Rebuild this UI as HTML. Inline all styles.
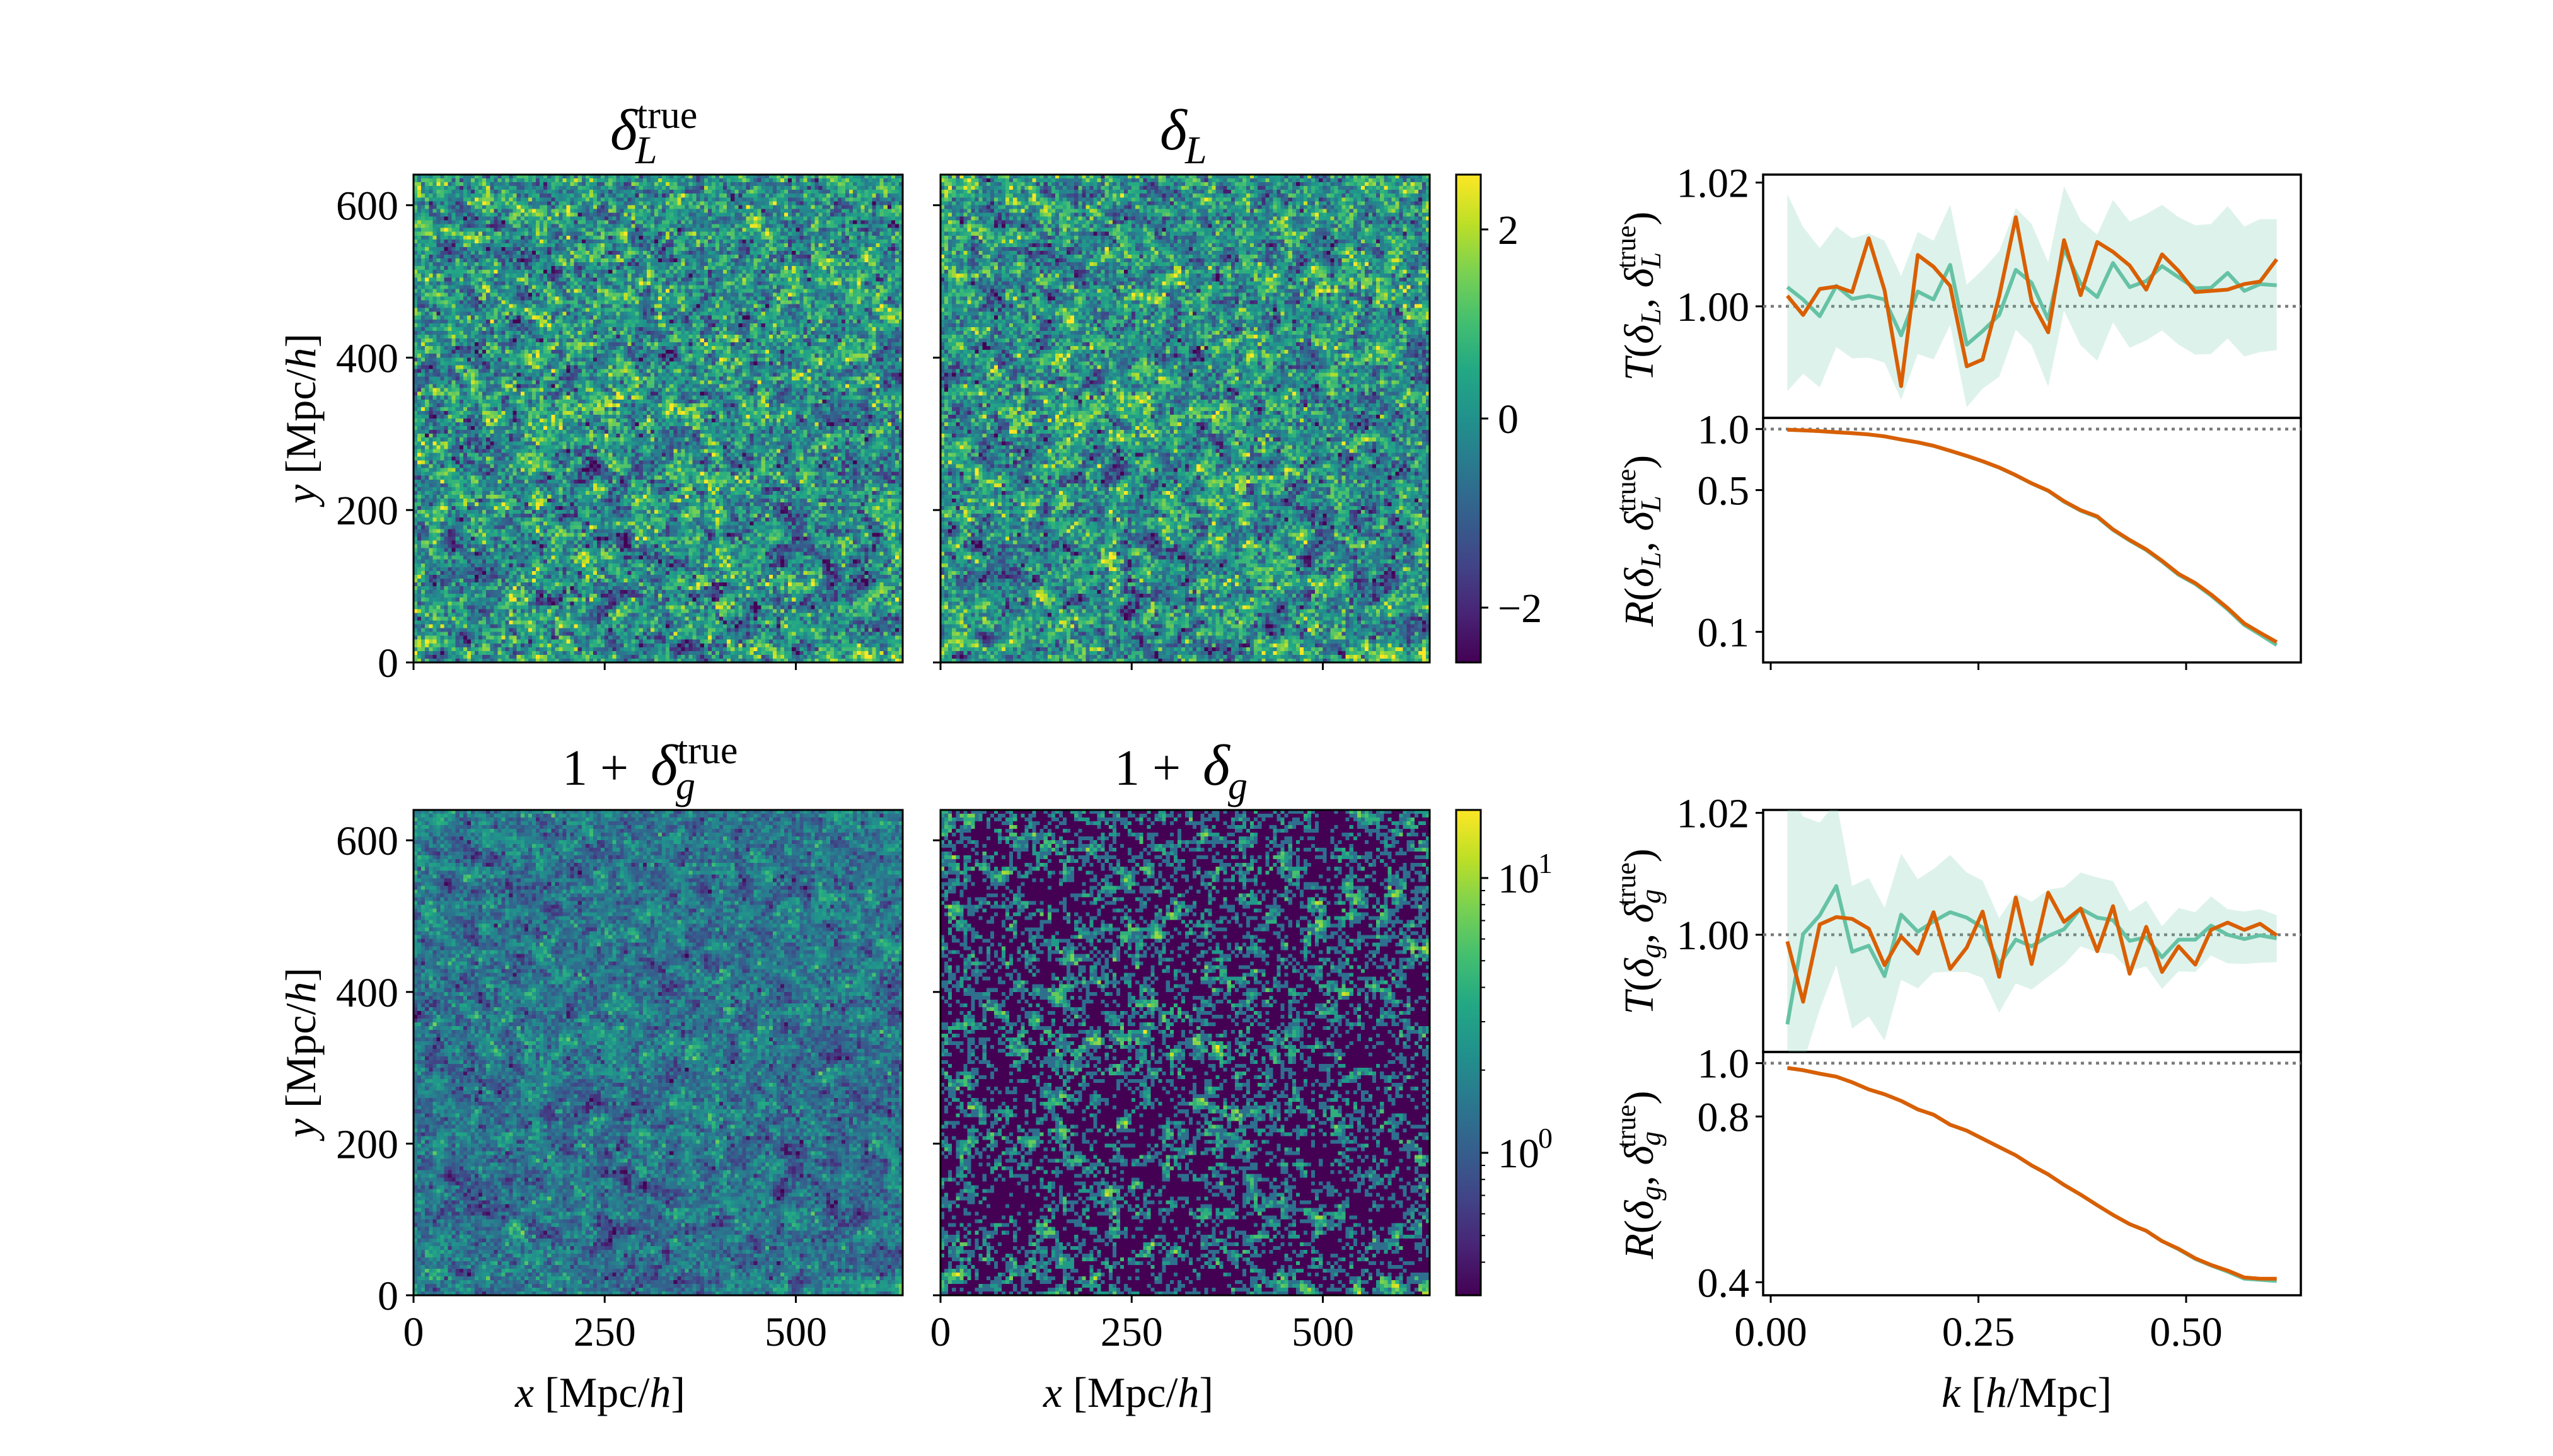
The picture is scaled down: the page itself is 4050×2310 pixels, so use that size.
<!DOCTYPE html>
<html><head><meta charset="utf-8">
<style>
html,body{margin:0;padding:0;background:#fff;}
#wrap{position:relative;width:4050px;height:2310px;overflow:hidden;}
svg{position:absolute;left:0;top:0;}
canvas{position:absolute;image-rendering:pixelated;}
text{font-family:"Liberation Serif",serif;fill:#000;}
</style></head>
<body>
<div id="wrap">
<canvas id="hmTL" width="128" height="128" style="left:656px;top:277px;width:776px;height:774px"></canvas>
<canvas id="hmTM" width="128" height="128" style="left:1492px;top:277px;width:776px;height:774px"></canvas>
<canvas id="hmBL" width="128" height="128" style="left:656px;top:1285px;width:776px;height:770px"></canvas>
<canvas id="hmBM" width="128" height="128" style="left:1492px;top:1285px;width:776px;height:770px"></canvas>
<svg id="svg" width="4050" height="2310" viewBox="0 0 4050 2310">
<defs>
<linearGradient id="vir" x1="0" y1="1" x2="0" y2="0">
<stop offset="0" stop-color="#440154"/><stop offset="0.1" stop-color="#482475"/><stop offset="0.2" stop-color="#414487"/><stop offset="0.3" stop-color="#355f8d"/><stop offset="0.4" stop-color="#2a788e"/><stop offset="0.5" stop-color="#21918c"/><stop offset="0.6" stop-color="#22a884"/><stop offset="0.7" stop-color="#44bf70"/><stop offset="0.8" stop-color="#7ad151"/><stop offset="0.9" stop-color="#bddf26"/><stop offset="1" stop-color="#fde725"/>
</linearGradient>
<clipPath id="c1"><rect x="2797" y="277" width="853" height="386"/></clipPath>
<clipPath id="c2"><rect x="2797" y="663" width="853" height="388"/></clipPath>
<clipPath id="c3"><rect x="2797" y="1285" width="853" height="384"/></clipPath>
<clipPath id="c4"><rect x="2797" y="1669" width="853" height="386"/></clipPath>
</defs>
<rect x="656" y="277" width="776" height="774" fill="none" stroke="#000" stroke-width="3"/>
<rect x="1492" y="277" width="776" height="774" fill="none" stroke="#000" stroke-width="3"/>
<rect x="656" y="1285" width="776" height="770" fill="none" stroke="#000" stroke-width="3"/>
<rect x="1492" y="1285" width="776" height="770" fill="none" stroke="#000" stroke-width="3"/>
<rect x="2310" y="277" width="39" height="774" fill="url(#vir)" stroke="#000" stroke-width="3"/>
<rect x="2310" y="1285" width="39" height="770" fill="url(#vir)" stroke="#000" stroke-width="3"/>
<g id="axes"></g>
<g id="lines"></g>
<g>
<text x="968" y="237" font-size="92" font-style="italic">δ</text>
<text x="1010" y="203" font-size="62">true</text>
<text x="1008" y="259" font-size="62" font-style="italic">L</text>
</g>
<g>
<text x="1840" y="237" font-size="92" font-style="italic">δ</text>
<text x="1880" y="259" font-size="62" font-style="italic">L</text>
</g>
<g>
<text x="892" y="1245" font-size="80">1 + </text>
<text x="1032" y="1245" font-size="92" font-style="italic">δ</text>
<text x="1074" y="1211" font-size="62">true</text>
<text x="1072" y="1267" font-size="62" font-style="italic">g</text>
</g>
<g>
<text x="1768" y="1245" font-size="80">1 + </text>
<text x="1908" y="1245" font-size="92" font-style="italic">δ</text>
<text x="1948" y="1267" font-size="62" font-style="italic">g</text>
</g>
<text transform="translate(500,664) rotate(-90)" text-anchor="middle" font-size="68"><tspan font-style="italic">y</tspan> [Mpc/<tspan font-style="italic">h</tspan>]</text>
<text transform="translate(500,1670) rotate(-90)" text-anchor="middle" font-size="68"><tspan font-style="italic">y</tspan> [Mpc/<tspan font-style="italic">h</tspan>]</text>
<text x="952" y="2232" text-anchor="middle" font-size="68"><tspan font-style="italic">x</tspan> [Mpc/<tspan font-style="italic">h</tspan>]</text>
<text x="1790" y="2232" text-anchor="middle" font-size="68"><tspan font-style="italic">x</tspan> [Mpc/<tspan font-style="italic">h</tspan>]</text>
<text x="3215" y="2232" text-anchor="middle" font-size="68"><tspan font-style="italic">k</tspan> [<tspan font-style="italic">h</tspan>/Mpc]</text>
<text transform="translate(2622,470) rotate(-90)" text-anchor="middle" font-size="66"><tspan font-style="italic">T</tspan>(<tspan font-style="italic">δ</tspan><tspan font-style="italic" font-size="46" dy="12">L</tspan><tspan dy="-12">, </tspan><tspan font-style="italic">δ</tspan><tspan font-style="italic" font-size="46" dy="12">L</tspan><tspan font-size="44" dx="-26" dy="-40">true</tspan><tspan dy="28">)</tspan></text>
<text transform="translate(2622,858) rotate(-90)" text-anchor="middle" font-size="66"><tspan font-style="italic">R</tspan>(<tspan font-style="italic">δ</tspan><tspan font-style="italic" font-size="46" dy="12">L</tspan><tspan dy="-12">, </tspan><tspan font-style="italic">δ</tspan><tspan font-style="italic" font-size="46" dy="12">L</tspan><tspan font-size="44" dx="-26" dy="-40">true</tspan><tspan dy="28">)</tspan></text>
<text transform="translate(2622,1478) rotate(-90)" text-anchor="middle" font-size="66"><tspan font-style="italic">T</tspan>(<tspan font-style="italic">δ</tspan><tspan font-style="italic" font-size="46" dy="12">g</tspan><tspan dy="-12">, </tspan><tspan font-style="italic">δ</tspan><tspan font-style="italic" font-size="46" dy="12">g</tspan><tspan font-size="44" dx="-26" dy="-40">true</tspan><tspan dy="28">)</tspan></text>
<text transform="translate(2622,1864) rotate(-90)" text-anchor="middle" font-size="66"><tspan font-style="italic">R</tspan>(<tspan font-style="italic">δ</tspan><tspan font-style="italic" font-size="46" dy="12">g</tspan><tspan dy="-12">, </tspan><tspan font-style="italic">δ</tspan><tspan font-style="italic" font-size="46" dy="12">g</tspan><tspan font-size="44" dx="-26" dy="-40">true</tspan><tspan dy="28">)</tspan></text>
</svg>
</div>
<script>
const kVals = [0.020,0.039,0.059,0.079,0.098,0.118,0.137,0.157,0.177,0.196,0.216,0.236,0.255,0.275,0.295,0.314,0.334,0.353,0.373,0.393,0.412,0.432,0.452,0.471,0.491,0.511,0.530,0.550,0.570,0.589,0.609];
const tTopOrange = [1.0017,0.9986,1.0028,1.0032,1.0023,1.0110,1.0026,0.9871,1.0083,1.0064,1.0033,0.9903,0.9914,1.0016,1.0144,1.0008,0.9958,1.0107,1.0018,1.0104,1.0088,1.0066,1.0027,1.0084,1.0057,1.0023,1.0025,1.0027,1.0036,1.0040,1.0076];
const tTopTeal = [1.0031,1.0011,0.9984,1.0033,1.0012,1.0017,1.0011,0.9953,1.0024,1.0011,1.0067,0.9938,0.9960,0.9986,1.0059,1.0038,0.9979,1.0093,1.0037,1.0015,1.0070,1.0031,1.0041,1.0065,1.0047,1.0029,1.0030,1.0054,1.0025,1.0036,1.0034];
const tTopBandHi = [1.0181,1.0128,1.0094,1.0129,1.0110,1.0118,1.0106,1.0049,1.0120,1.0106,1.0164,1.0035,1.0059,1.0089,1.0159,1.0133,1.0071,1.0194,1.0139,1.0116,1.0172,1.0137,1.0149,1.0164,1.0144,1.0131,1.0133,1.0162,1.0129,1.0141,1.0141];
const tTopBandLo = [0.9863,0.9891,0.9869,0.9934,0.9916,0.9917,0.9909,0.9849,0.9923,0.9914,0.9970,0.9837,0.9867,0.9886,0.9962,0.9937,0.9870,0.9993,0.9937,0.9912,0.9974,0.9933,0.9945,0.9961,0.9938,0.9922,0.9923,0.9948,0.9919,0.9926,0.9929];
const rTopOrange = [0.993,0.986,0.977,0.965,0.954,0.940,0.920,0.888,0.860,0.827,0.782,0.737,0.694,0.646,0.592,0.540,0.497,0.441,0.398,0.371,0.320,0.284,0.255,0.224,0.193,0.174,0.153,0.131,0.110,0.099,0.089];
const rTopTeal = [0.993,0.986,0.977,0.965,0.954,0.940,0.920,0.888,0.860,0.826,0.781,0.736,0.693,0.645,0.591,0.539,0.496,0.438,0.396,0.368,0.318,0.282,0.253,0.222,0.191,0.172,0.151,0.129,0.108,0.097,0.086];
const tBotOrange = [0.9989,0.9890,1.0017,1.0029,1.0026,1.0010,0.9950,0.9997,0.9969,1.0037,0.9944,0.9979,1.0038,0.9931,1.0061,0.9952,1.0069,1.0021,1.0043,0.9973,1.0047,0.9936,1.0013,0.9939,0.9981,0.9951,1.0008,1.0020,1.0008,1.0018,0.9999];
const tBotTeal = [0.9853,1.0001,1.0032,1.0080,0.9972,0.9982,0.9932,1.0033,1.0005,1.0022,1.0037,1.0028,1.0012,0.9951,0.9992,0.9981,0.9998,1.0009,1.0043,1.0028,1.0024,0.9990,0.9996,0.9963,0.9992,0.9992,1.0015,1.0000,0.9993,0.9999,0.9994];
const tBotBandHi = [1.0239,1.0194,1.0184,1.0219,1.0080,1.0093,1.0044,1.0133,1.0091,1.0108,1.0131,1.0102,1.0089,1.0027,1.0068,1.0054,1.0074,1.0078,1.0102,1.0094,1.0088,1.0038,1.0056,1.0014,1.0044,1.0037,1.0063,1.0042,1.0038,1.0042,1.0032];
const tBotBandLo = [0.9810,0.9790,0.9877,0.9950,0.9846,0.9866,0.9826,0.9926,0.9912,0.9938,0.9939,0.9939,0.9929,0.9872,0.9920,0.9910,0.9931,0.9951,0.9981,0.9971,0.9968,0.9941,0.9948,0.9911,0.9940,0.9939,0.9966,0.9953,0.9952,0.9954,0.9955];
const rBotOrange = [0.980,0.971,0.957,0.945,0.923,0.896,0.878,0.854,0.824,0.806,0.773,0.754,0.729,0.704,0.680,0.652,0.628,0.601,0.577,0.552,0.530,0.510,0.496,0.475,0.460,0.442,0.430,0.420,0.408,0.406,0.406];
const rBotTeal = [0.980,0.971,0.957,0.945,0.923,0.896,0.878,0.854,0.824,0.806,0.773,0.754,0.729,0.704,0.680,0.652,0.628,0.601,0.577,0.552,0.530,0.510,0.496,0.475,0.459,0.441,0.429,0.418,0.406,0.404,0.402];
const kTicks = [0, 0.25, 0.5];
const kTickLabels = ["0.00","0.25","0.50"];
const tTicks = [1.00, 1.02];
const tTickLabels = ["1.00","1.02"];
const rTopTicks = [1.0, 0.5, 0.1];
const rTopTickLabels = ["1.0","0.5","0.1"];
const rBotTicks = [1.0, 0.8, 0.4];
const rBotTickLabels = ["1.0","0.8","0.4"];
const posTicks = [0, 200, 400, 600];
const posTickLabels = ["0","200","400","600"];
const xPosTicks = [0, 250, 500];
const xPosTickLabels = ["0","250","500"];
const cbTopTicks = [2, 0, -2];
const cbTopTickLabels = ["2","0","\u22122"];
const cbBotTicks = [10, 1];
const cbBotTickExp = ["1","0"];

const NS = "http://www.w3.org/2000/svg";
const axesG = document.getElementById('axes');
const linesG = document.getElementById('lines');
function mk(tag, attrs, parent){
  const e = document.createElementNS(NS, tag);
  for (const k in attrs) e.setAttribute(k, attrs[k]);
  parent.appendChild(e);
  return e;
}
const xK = k => 2809 + k*1318;
const yT1 = v => 486 - (v-1)*9817;
const yR1 = v => 680.7 - Math.log10(v)*321.7;
const yT2 = v => 1483 - (v-1)*9667;
const yR2 = v => 1686.7 - Math.log10(v)*873.5;
const xPosL = v => 656 + v*1.213;
const xPosM = v => 1492 + v*1.213;
const yPosTop = v => 1051 - v*1.209;
const yPosBot = v => 2055 - v*1.203;
const yCbTop = v => 664 - v*150;
const yCbBot = v => 1829 - Math.log10(v)*436;

const panels = [[277,663],[663,1051],[1285,1669],[1669,2055]];
panels.forEach((p,i)=>{
  const r = mk('rect',{x:2797,y:p[0],width:853,height:p[1]-p[0],fill:'none',stroke:'#000','stroke-width':3.5},axesG);
  
  
});
function hTick(x,y,len){ const t=mk('line',{x1:x-len,y1:y,x2:x,y2:y,stroke:'#000','stroke-width':3},axesG);
    }
function vTick(x,y,len){ const t=mk('line',{x1:x,y1:y,x2:x,y2:y+len,stroke:'#000','stroke-width':3},axesG);
    }
function label(x,y,txt,anchor){ const t=mk('text',{x:x,y:y,'text-anchor':anchor,'font-size':66},axesG); t.textContent=txt;
    return t; }

tTicks.forEach((v,i)=>{ hTick(2797,yT1(v),12); label(2775,yT1(v)+23,tTickLabels[i],'end'); });
tTicks.forEach((v,i)=>{ hTick(2797,yT2(v),12); label(2775,yT2(v)+23,tTickLabels[i],'end'); });
rTopTicks.forEach((v,i)=>{ hTick(2797,yR1(v),12); label(2775,yR1(v)+23,rTopTickLabels[i],'end'); });
rBotTicks.forEach((v,i)=>{ hTick(2797,yR2(v),12); label(2775,yR2(v)+23,rBotTickLabels[i],'end'); });
kTicks.forEach((v,i)=>{ vTick(xK(v),1051,12); vTick(xK(v),2055,12); label(xK(v),2135,kTickLabels[i],'middle'); });

posTicks.forEach((v,i)=>{
  hTick(656,yPosTop(v),12); hTick(1492,yPosTop(v),12); label(632,yPosTop(v)+23,posTickLabels[i],'end');
  hTick(656,yPosBot(v),12); hTick(1492,yPosBot(v),12); label(632,yPosBot(v)+23,posTickLabels[i],'end');
});
xPosTicks.forEach((v,i)=>{
  vTick(xPosL(v),1051,12); vTick(xPosM(v),1051,12);
  vTick(xPosL(v),2055,12); vTick(xPosM(v),2055,12);
  label(xPosL(v),2135,xPosTickLabels[i],'middle'); label(xPosM(v),2135,xPosTickLabels[i],'middle');
});
cbTopTicks.forEach((v,i)=>{ const y=yCbTop(v); mk('line',{x1:2349,y1:y,x2:2361,y2:y,stroke:'#000','stroke-width':3},axesG); label(2376,y+23,cbTopTickLabels[i],'start'); });
cbBotTicks.forEach((v,i)=>{ const y=yCbBot(v); mk('line',{x1:2349,y1:y,x2:2361,y2:y,stroke:'#000','stroke-width':3},axesG);
  label(2376,y+23,'10','start'); const s=mk('text',{x:2440,y:y-8,'font-size':46},axesG); s.textContent=cbBotTickExp[i];
    });
[0.4,0.5,0.6,0.7,0.8,0.9,2,3,4,5,6,7,8,9].forEach(v=>{ const y=yCbBot(v); mk('line',{x1:2349,y1:y,x2:2356,y2:y,stroke:'#000','stroke-width':2},axesG); });

[[yT1(1),'c1'],[yR1(1),'c2'],[yT2(1),'c3'],[yR2(1),'c4']].forEach(a=>{
  const l=mk('line',{x1:2797,y1:a[0],x2:3650,y2:a[0],stroke:'#7a7a7a','stroke-width':4.5,'stroke-dasharray':'5 7','clip-path':'url(#'+a[1]+')'},linesG);
   
});
function band(hi,lo,yf,clip,name){
  let d='M'; kVals.forEach((k,i)=>{ d+=(i?'L':'')+xK(k).toFixed(1)+','+yf(hi[i]).toFixed(1); });
  for(let i=kVals.length-1;i>=0;i--) d+='L'+xK(kVals[i]).toFixed(1)+','+yf(lo[i]).toFixed(1);
  const p=mk('path',{d:d+'Z',fill:'#66c2a5','fill-opacity':0.22,stroke:'none','clip-path':'url(#'+clip+')'},linesG);
   
}
function line(vals,yf,color,clip,name){
  const pts=kVals.map((k,i)=>xK(k).toFixed(1)+','+yf(vals[i]).toFixed(1)).join(' ');
  const p=mk('polyline',{points:pts,fill:'none',stroke:color,'stroke-width':6,'stroke-linejoin':'round','clip-path':'url(#'+clip+')'},linesG);
   
}
band(tTopBandHi,tTopBandLo,yT1,'c1','t-l-band');
line(tTopTeal,yT1,'#66c2a5','c1','t-l-teal-line');
line(tTopOrange,yT1,'#d95f02','c1','t-l-orange-line');
line(rTopTeal,yR1,'#66c2a5','c2','r-l-teal-line');
line(rTopOrange,yR1,'#d95f02','c2','r-l-orange-line');
band(tBotBandHi,tBotBandLo,yT2,'c3','t-g-band');
line(tBotTeal,yT2,'#66c2a5','c3','t-g-teal-line');
line(tBotOrange,yT2,'#d95f02','c3','t-g-orange-line');
line(rBotTeal,yR2,'#66c2a5','c4','r-g-teal-line');
line(rBotOrange,yR2,'#d95f02','c4','r-g-orange-line');

// ---- heatmap texture (seeded noise field image) ----
const VIR=[[68,1,84],[72,36,117],[65,68,135],[53,95,141],[42,120,142],[33,145,140],[34,168,132],[68,191,112],[122,209,81],[189,223,38],[253,231,37]];
function vir(t){ t=Math.max(0,Math.min(1,t)); const f=t*10, i=Math.min(9,Math.floor(f)), r=f-i;
  return VIR[i].map((c,j)=>Math.round(c+(VIR[i+1][j]-c)*r)); }
let seed=12345;
function rnd(){ seed|=0; seed=seed+0x6D2B79F5|0; let t=Math.imul(seed^seed>>>15,1|seed); t=t+Math.imul(t^t>>>7,61|t)^t; return ((t^t>>>14)>>>0)/4294967296; }
function gauss(){ let u=0,v=0; while(u===0)u=rnd(); v=rnd(); return Math.sqrt(-2*Math.log(u))*Math.cos(2*Math.PI*v); }
const N=128;
function white(){ const a=new Float32Array(N*N); for(let i=0;i<N*N;i++)a[i]=gauss(); return a; }
function blur(a,r){ const b=new Float32Array(N*N), c=new Float32Array(N*N);
  for(let y=0;y<N;y++)for(let x=0;x<N;x++){let s=0;for(let d=-r;d<=r;d++)s+=a[y*N+((x+d+N)%N)];b[y*N+x]=s;}
  for(let y=0;y<N;y++)for(let x=0;x<N;x++){let s=0;for(let d=-r;d<=r;d++)s+=b[((y+d+N)%N)*N+x];c[y*N+x]=s;} return c; }
function norm(a){ let m=0,s=0; for(const v of a)m+=v; m/=a.length; for(const v of a)s+=(v-m)*(v-m); s=Math.sqrt(s/a.length); return a.map(v=>(v-m)/s); }
const large = norm(blur(blur(white(),1),1));
const fineA = white(), fineB = white();
const gTrue = norm(large.map((v,i)=>0.6*v+0.8*fineA[i]));
const gRec = norm(large.map((v,i)=>0.6*v+0.8*fineB[i]));
function paint(id, fn){ const cv=document.getElementById(id), ctx=cv.getContext('2d'), img=ctx.createImageData(N,N);
  for(let i=0;i<N*N;i++){ const c=vir(fn(i)); img.data[4*i]=c[0];img.data[4*i+1]=c[1];img.data[4*i+2]=c[2];img.data[4*i+3]=255; }
  ctx.putImageData(img,0,0); }
const lmin=Math.log10(0.303), lmax=Math.log10(17.7);
const logT = v => (Math.log10(Math.max(v,1e-6))-lmin)/(lmax-lmin);
paint('hmTL', i=>(gTrue[i]+2.6)/5.2);
paint('hmTM', i=>(gRec[i]+2.6)/5.2);
const fineC = white();
paint('hmBL', i=>logT(1.45*Math.exp(0.5*(0.6*large[i]+0.8*fineC[i]))));
function poisson(l){ const L=Math.exp(-l); let k=0,p=1; do{k++;p*=rnd();}while(p>L); return k-1; }
paint('hmBM', i=>{ const lam=0.75*Math.exp(0.8*large[i]-0.32); return logT(poisson(lam)/0.75); });
</script>
</body></html>
